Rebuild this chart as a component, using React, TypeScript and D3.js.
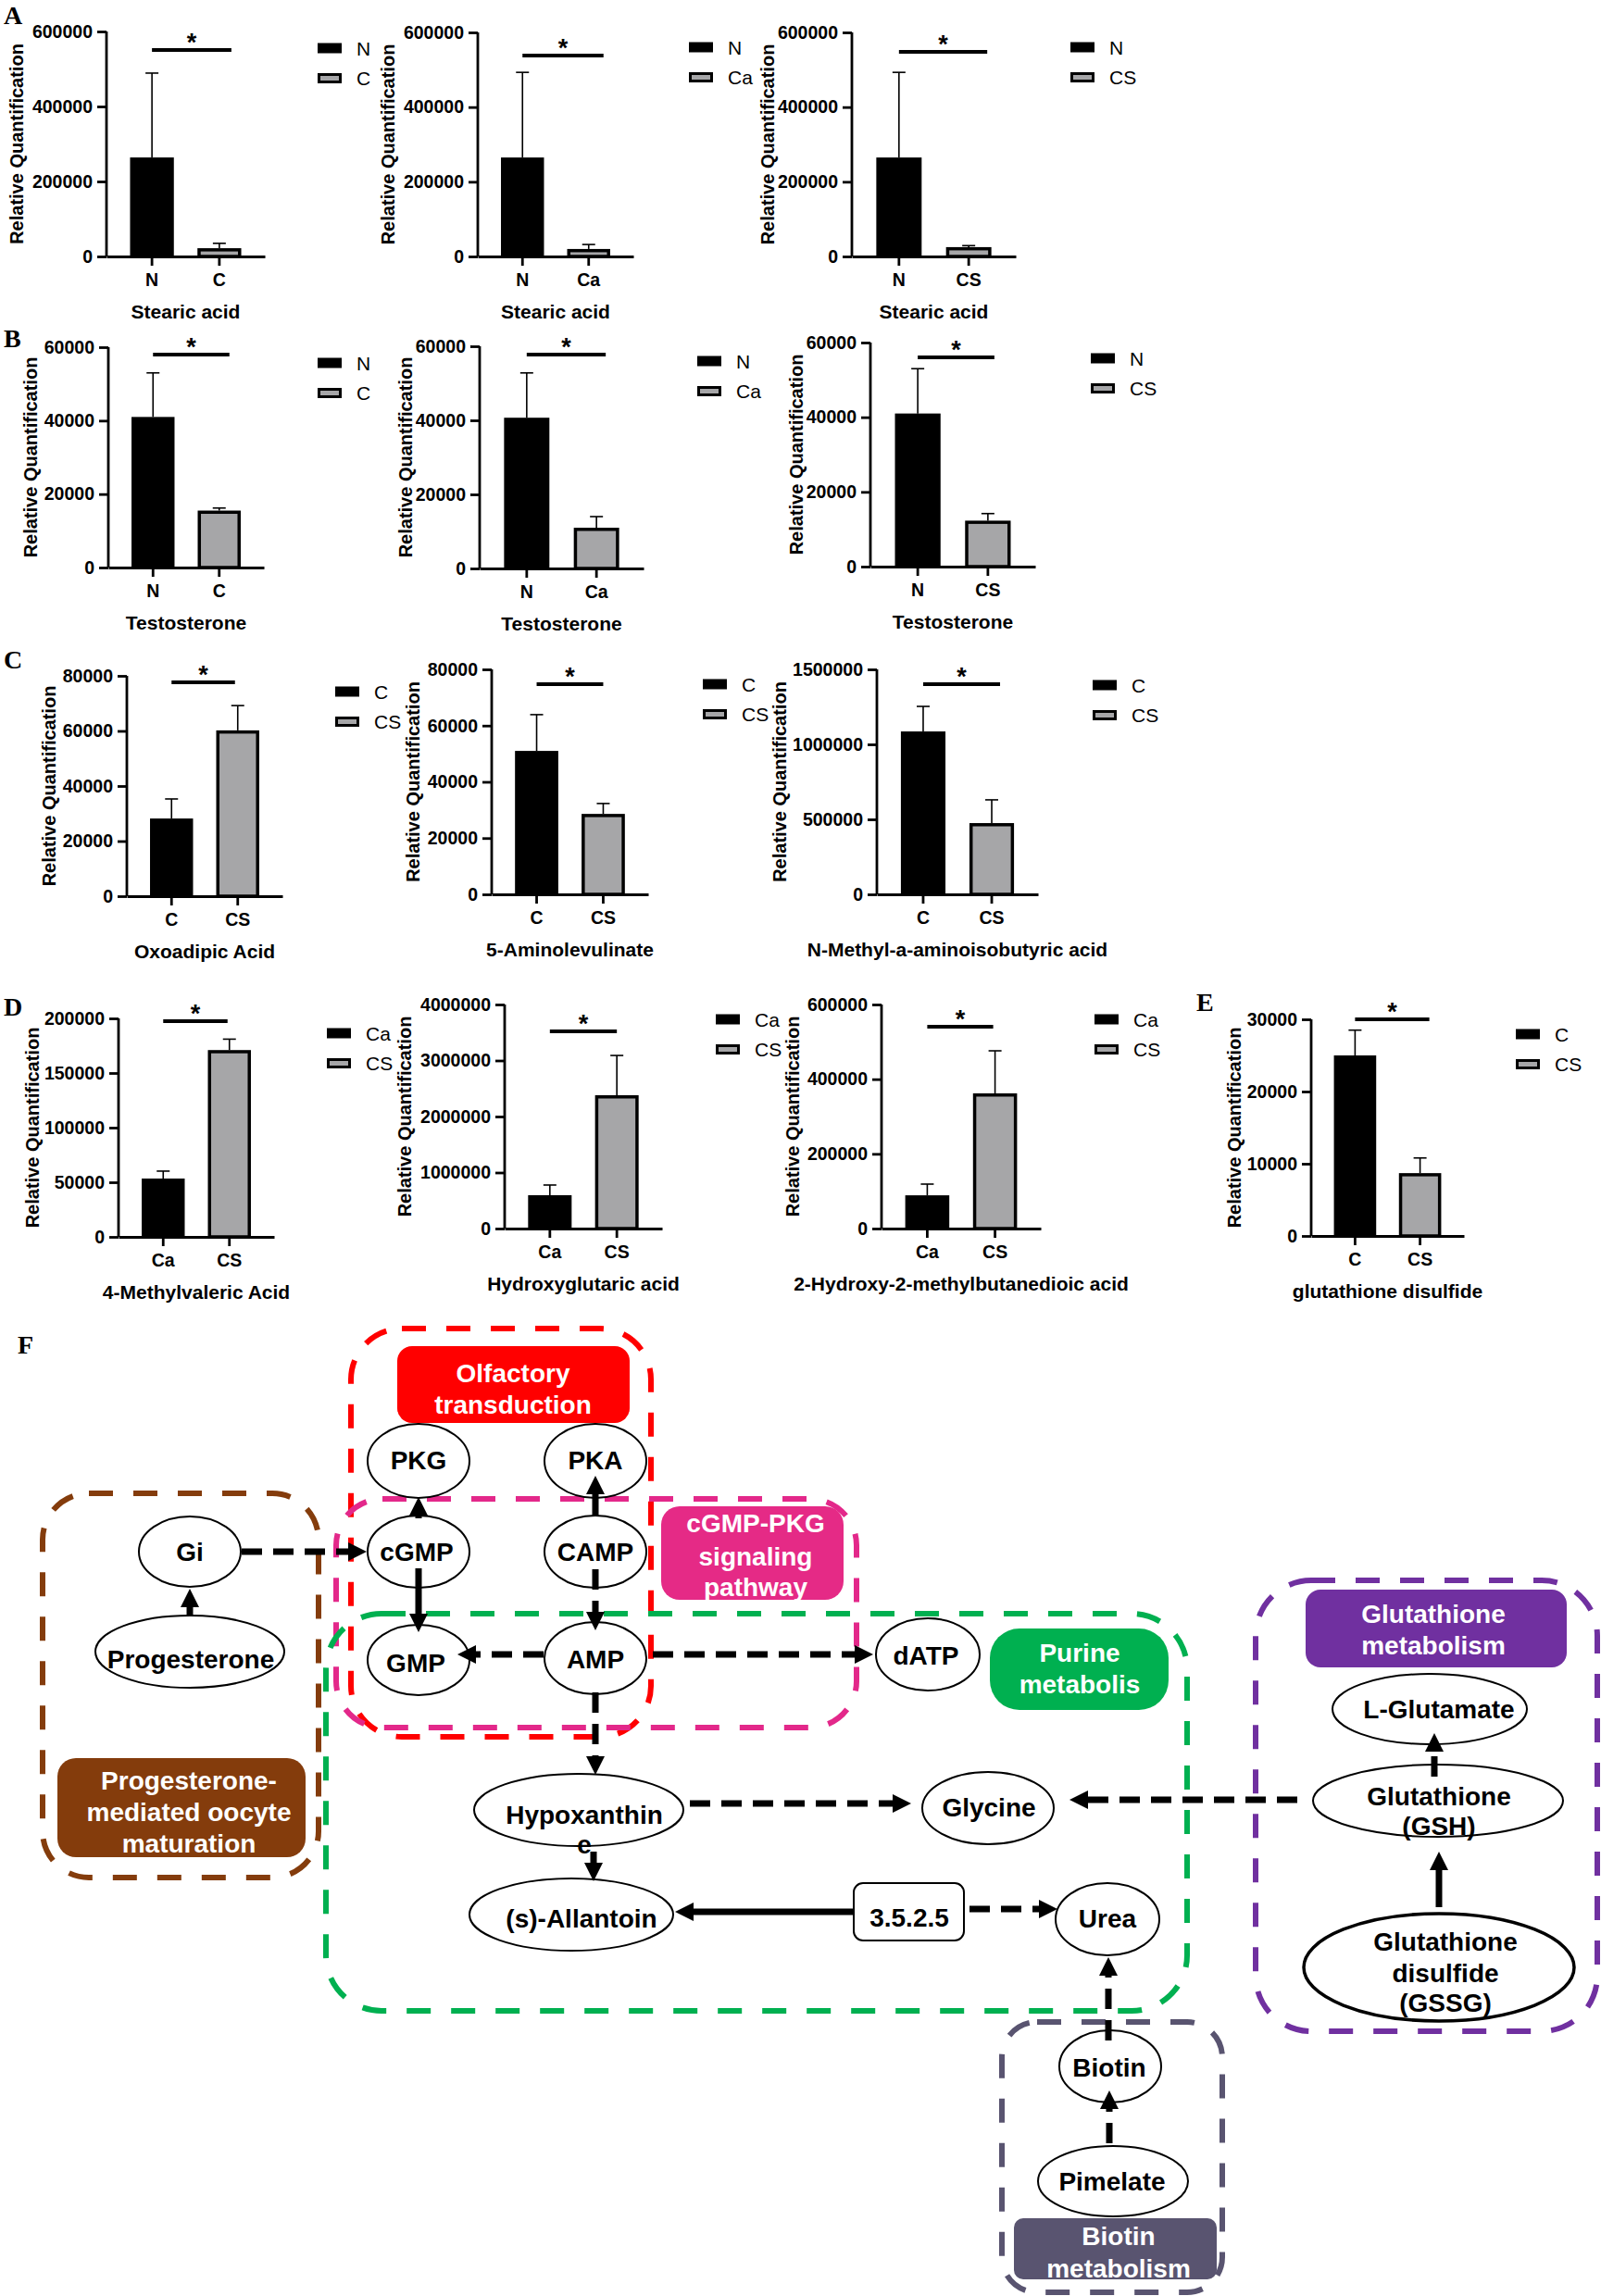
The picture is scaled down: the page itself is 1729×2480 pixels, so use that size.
import React, { useEffect, useRef } from 'react';
import * as d3 from 'd3';

const W = 1729;
const H = 2480;
const SANS = '"Liberation Sans", Arial, sans-serif';
const SERIF = '"Liberation Serif", "Times New Roman", serif';

// ---------- bar chart data (panels A-E) ----------
const metabolites = [
    'Stearic acid', 'Stearic acid', 'Stearic acid',
    'Testosterone', 'Testosterone', 'Testosterone',
    'Oxoadipic Acid', '5-Aminolevulinate', 'N-Methyl-a-aminoisobutyric acid',
    '4-Methylvaleric Acid', 'Hydroxyglutaric acid', '2-Hydroxy-2-methylbutanedioic acid',
    'glutathione disulfide',
];
const groupPairs = [
    ['N', 'C'], ['N', 'Ca'], ['N', 'CS'],
    ['N', 'C'], ['N', 'Ca'], ['N', 'CS'],
    ['C', 'CS'], ['C', 'CS'], ['C', 'CS'],
    ['Ca', 'CS'], ['Ca', 'CS'], ['Ca', 'CS'],
    ['C', 'CS'],
];
const meanValues = [
    [264000, 22000], [265000, 20000], [265000, 25000],
    [41000, 15500], [40700, 11000], [41000, 12300],
    [28200, 60200], [51000, 28600], [1086000, 475000],
    [53400, 171000], [595000, 2380000], [89000, 362000],
    [25000, 8700],
];
const upperErrors = [
    [489000, 35000], [493000, 32000], [493000, 29000],
    [53000, 16200], [52800, 14000], [53000, 14200],
    [35300, 69200], [63900, 32300], [1253000, 630000],
    [60200, 181000], [777000, 3090000], [119000, 476000],
    [28500, 10800],
];
const yMaxima = [600000, 600000, 600000, 60000, 60000, 60000, 80000, 80000, 1500000, 200000, 4000000, 600000, 30000];
const yTickSteps = [200000, 200000, 200000, 20000, 20000, 20000, 20000, 20000, 500000, 50000, 1000000, 200000, 10000];

// panel placement in the page
const panelFrames = [
    { axisX: 115, top: 34, zero: 277, right: 286, labelX: 25, sigY: 54, sigPad: 13, legX: 343, legY: 52 },
    { axisX: 516, top: 35, zero: 277, right: 684, labelX: 426, sigY: 60, sigPad: 16, legX: 744, legY: 51 },
    { axisX: 920, top: 35, zero: 277, right: 1097, labelX: 839, sigY: 56, sigPad: 20, legX: 1156, legY: 51 },
    { axisX: 117, top: 375, zero: 613, right: 285, labelX: 40, sigY: 383, sigPad: 11, legX: 343, legY: 392 },
    { axisX: 518, top: 374, zero: 614, right: 695, labelX: 449, sigY: 383, sigPad: 10, legX: 753, legY: 390 },
    { axisX: 940, top: 370, zero: 612, right: 1118, labelX: 871, sigY: 386, sigPad: 7, legX: 1178, legY: 387 },
    { axisX: 137, top: 730, zero: 968, right: 305, labelX: 60, sigY: 737, sigPad: -3, legX: 362, legY: 747 },
    { axisX: 531, top: 723, zero: 966, right: 700, labelX: 453, sigY: 739, sigPad: 0, legX: 759, legY: 739 },
    { axisX: 947, top: 723, zero: 966, right: 1121, labelX: 849, sigY: 739, sigPad: 9, legX: 1180, legY: 740 },
    { axisX: 128, top: 1100, zero: 1336, right: 296, labelX: 42, sigY: 1103, sigPad: -2, legX: 353, legY: 1116 },
    { axisX: 545, top: 1085, zero: 1327, right: 715, labelX: 444, sigY: 1114, sigPad: 0, legX: 773, legY: 1101 },
    { axisX: 952, top: 1085, zero: 1327, right: 1124, labelX: 863, sigY: 1109, sigPad: -2, legX: 1182, legY: 1101 },
    { axisX: 1416, top: 1101, zero: 1335, right: 1581, labelX: 1340, sigY: 1101, sigPad: 10, legX: 1637, legY: 1117 },
];

const panelLetters = [
    { t: 'A', x: 4, y: 26 }, { t: 'B', x: 4, y: 375 }, { t: 'C', x: 4, y: 722 },
    { t: 'D', x: 4, y: 1097 }, { t: 'E', x: 1292, y: 1092 }, { t: 'F', x: 19, y: 1462 },
];

// ---------- pathway diagram (panel F) ----------
const pathwayGroups = [
    { color: '#ff0000', x: 379, y: 1435, w: 324, h: 441, r: 55 },
    { color: '#e3288a', x: 363, y: 1619, w: 562, h: 247, r: 50 },
    { color: '#00b050', x: 352, y: 1743, w: 930, h: 429, r: 60 },
    { color: '#843c0c', x: 46, y: 1613, w: 298, h: 415, r: 50 },
    { color: '#7030a0', x: 1356, y: 1707, w: 369, h: 487, r: 60 },
    { color: '#595470', x: 1082, y: 2184, w: 238, h: 292, r: 38 },
];
const pathwayTags = [
    { lines: ['Olfactory', 'transduction'], fill: '#ff0000', x: 429, y: 1454, w: 251, h: 83, r: 16, tx: 554, base: [1493, 1527] },
    { lines: ['cGMP-PKG', 'signaling', 'pathway'], fill: '#e52a86', x: 714, y: 1627, w: 197, h: 101, r: 20, tx: 816, base: [1655, 1691, 1724] },
    { lines: ['Purine', 'metabolis'], fill: '#00b050', x: 1069, y: 1759, w: 193, h: 88, r: 32, tx: 1166, base: [1795, 1829] },
    { lines: ['Glutathione', 'metabolism'], fill: '#7030a0', x: 1410, y: 1717, w: 282, h: 84, r: 16, tx: 1548, base: [1753, 1787] },
    { lines: ['Progesterone-', 'mediated oocyte', 'maturation'], fill: '#843c0c', x: 62, y: 1899, w: 268, h: 107, r: 20, tx: 204, base: [1933, 1967, 2001] },
    { lines: ['Biotin', 'metabolism'], fill: '#595470', x: 1095, y: 2396, w: 219, h: 66, r: 10, tx: 1208, base: [2425, 2460] },
];
const pathwayNodes = [
    { lines: ['PKG'], cx: 452, cy: 1578, rx: 55, ry: 40, tx: 452, base: [1587] },
    { lines: ['PKA'], cx: 643, cy: 1578, rx: 55, ry: 40, tx: 643, base: [1587] },
    { lines: ['cGMP'], cx: 452, cy: 1676, rx: 55, ry: 39, tx: 450, base: [1686] },
    { lines: ['CAMP'], cx: 643, cy: 1676, rx: 55, ry: 39, tx: 643, base: [1686] },
    { lines: ['GMP'], cx: 452, cy: 1793, rx: 55, ry: 38, tx: 449, base: [1806] },
    { lines: ['AMP'], cx: 643, cy: 1791, rx: 55, ry: 39, tx: 643, base: [1802] },
    { lines: ['Gi'], cx: 205, cy: 1676, rx: 55, ry: 38, tx: 205, base: [1686] },
    { lines: ['Progesterone'], cx: 205, cy: 1784, rx: 102, ry: 39, tx: 206, base: [1802] },
    { lines: ['dATP'], cx: 1002, cy: 1787, rx: 56, ry: 39, tx: 1000, base: [1798] },
    { lines: ['Hypoxanthin', 'e'], cx: 625, cy: 1955, rx: 113, ry: 39, tx: 631, base: [1970, 2002] },
    { lines: ['(s)-Allantoin'], cx: 617, cy: 2068, rx: 110, ry: 39, tx: 628, base: [2082] },
    { lines: ['Glycine'], cx: 1067, cy: 1953, rx: 71, ry: 39, tx: 1068, base: [1962] },
    { lines: ['Urea'], cx: 1196, cy: 2073, rx: 56, ry: 39, tx: 1196, base: [2082] },
    { lines: ['L-Glutamate'], cx: 1544, cy: 1846, rx: 105, ry: 38, tx: 1554, base: [1856] },
    { lines: ['Glutathione', '(GSH)'], cx: 1553, cy: 1945, rx: 135, ry: 39, tx: 1554, base: [1950, 1982] },
    { lines: ['Glutathione', 'disulfide', '(GSSG)'], cx: 1554, cy: 2125, rx: 146, ry: 58, tx: 1561, base: [2107, 2141, 2173], sw: 3.5 },
    { lines: ['Biotin'], cx: 1199, cy: 2232, rx: 55, ry: 39, tx: 1198, base: [2243] },
    { lines: ['Pimelate'], cx: 1202, cy: 2356, rx: 81, ry: 38, tx: 1201, base: [2366] },
];
const enzymeBox = { label: '3.5.2.5', x: 922, y: 2034, w: 119, h: 62, tx: 982, base: 2081 };
const pathwayArrows = [
    { x1: 205, y1: 1745, x2: 205, y2: 1716, dash: false },
    { x1: 261, y1: 1676, x2: 396, y2: 1676, dash: true },
    { x1: 452, y1: 1640, x2: 452, y2: 1617, dash: false },
    { x1: 643, y1: 1638, x2: 643, y2: 1594, dash: false },
    { x1: 452, y1: 1694, x2: 452, y2: 1763, dash: false },
    { x1: 643, y1: 1695, x2: 643, y2: 1761, dash: true },
    { x1: 587, y1: 1787, x2: 494, y2: 1787, dash: true },
    { x1: 705, y1: 1787, x2: 943, y2: 1787, dash: true },
    { x1: 643, y1: 1828, x2: 643, y2: 1917, dash: true },
    { x1: 745, y1: 1948, x2: 984, y2: 1948, dash: true },
    { x1: 1401, y1: 1944, x2: 1155, y2: 1944, dash: true },
    { x1: 1549, y1: 1919, x2: 1549, y2: 1872, dash: true },
    { x1: 1554, y1: 2060, x2: 1554, y2: 2000, dash: false },
    { x1: 641, y1: 2000, x2: 641, y2: 2032, dash: false },
    { x1: 922, y1: 2065, x2: 729, y2: 2065, dash: false },
    { x1: 1047, y1: 2062, x2: 1142, y2: 2062, dash: true },
    { x1: 1197, y1: 2204, x2: 1197, y2: 2114, dash: true },
    { x1: 1198, y1: 2315, x2: 1198, y2: 2258, dash: true },
];

const App = () => {
    const svgRef = useRef<SVGSVGElement>(null);

    useEffect(() => {
        const svg = d3.select(svgRef.current);
        svg.selectAll('*').remove();
        svg.append('rect').attr('width', W).attr('height', H).attr('fill', '#fff');

        // panel letters
        svg.append('g').selectAll('text').data(panelLetters).join('text')
            .attr('x', d => d.x).attr('y', d => d.y)
            .attr('font-family', SERIF).attr('font-weight', 'bold').attr('font-size', 28)
            .text(d => d.t);

        // ---- bar charts ----
        metabolites.forEach((name, i) => {
            const f = panelFrames[i];
            const cats = groupPairs[i];
            const g = svg.append('g');

            const x = d3.scaleBand().domain(cats).range([f.axisX, f.right]).paddingInner(0.35).paddingOuter(0.35);
            const y = d3.scaleLinear().domain([0, yMaxima[i]]).range([f.zero, f.top]);
            const ticks = d3.range(0, yMaxima[i] + yTickSteps[i] / 2, yTickSteps[i]);

            // bars
            cats.forEach((c, j) => {
                const x0 = x(c)!;
                const bw = x.bandwidth();
                const yv = y(meanValues[i][j]);
                if (j === 0) {
                    g.append('rect').attr('x', x0).attr('y', yv).attr('width', bw).attr('height', f.zero - yv).attr('fill', '#000');
                } else {
                    g.append('rect').attr('x', x0 + 1.75).attr('y', yv + 1.75).attr('width', bw - 3.5).attr('height', Math.max(0, f.zero - yv - 1.75))
                        .attr('fill', '#a6a6a8').attr('stroke', '#000').attr('stroke-width', 3.5);
                }
                const cx = x0 + bw / 2;
                const ye = y(upperErrors[i][j]);
                g.append('line').attr('x1', cx).attr('x2', cx).attr('y1', yv).attr('y2', ye).attr('stroke', '#000').attr('stroke-width', 1.6);
                g.append('line').attr('x1', cx - 7).attr('x2', cx + 7).attr('y1', ye).attr('y2', ye).attr('stroke', '#000').attr('stroke-width', 1.6);
            });

            // axes
            const yAxis = g.append('g').attr('transform', `translate(${f.axisX},0)`)
                .call(d3.axisLeft(y).tickValues(ticks).tickSize(10).tickSizeOuter(0).tickPadding(5).tickFormat(d3.format('d')));
            const xAxis = g.append('g').attr('transform', `translate(0,${f.zero})`)
                .call(d3.axisBottom(x).tickSize(10).tickSizeOuter(0).tickPadding(8));
            [yAxis, xAxis].forEach(ax => {
                ax.attr('font-family', SANS).attr('font-size', 19.5).attr('font-weight', 'bold');
                ax.select('.domain').attr('stroke-width', 2.8);
                ax.selectAll('.tick line').attr('stroke-width', 2.8);
            });
            yAxis.select('.domain').attr('d', `M0,${f.top}V${f.zero}`);

            // axis label kept clear of the tick labels
            const tickLeft = f.axisX + (yAxis.node() as SVGGElement).getBBox().x;
            const lx = Math.min(f.labelX, tickLeft - 4);
            g.append('text')
                .attr('transform', `translate(${lx},${(f.top + f.zero) / 2}) rotate(-90)`)
                .attr('text-anchor', 'middle').attr('font-family', SANS).attr('font-weight', 'bold').attr('font-size', 20)
                .text('Relative Quantification');
            g.append('text').attr('x', (f.axisX + f.right) / 2).attr('y', f.zero + 67)
                .attr('text-anchor', 'middle').attr('font-family', SANS).attr('font-weight', 'bold').attr('font-size', 21)
                .text(name);

            // significance
            const c1 = x(cats[0])! + x.bandwidth() / 2;
            const c2 = x(cats[1])! + x.bandwidth() / 2 + f.sigPad;
            g.append('line').attr('x1', c1).attr('x2', c2).attr('y1', f.sigY).attr('y2', f.sigY).attr('stroke', '#000').attr('stroke-width', 4);
            g.append('text').attr('x', (c1 + c2) / 2).attr('y', f.sigY + 1).attr('text-anchor', 'middle')
                .attr('font-family', SANS).attr('font-weight', 'bold').attr('font-size', 27).text('*');

            // legend
            cats.forEach((c, j) => {
                const cy = f.legY + j * 32.5;
                if (j === 0) {
                    g.append('rect').attr('x', f.legX).attr('y', cy - 5.5).attr('width', 26).attr('height', 11).attr('fill', '#000');
                } else {
                    g.append('rect').attr('x', f.legX + 1.5).attr('y', cy - 4).attr('width', 23).attr('height', 8)
                        .attr('fill', '#a6a6a8').attr('stroke', '#000').attr('stroke-width', 3);
                }
                g.append('text').attr('x', f.legX + 42).attr('y', cy + 7.5)
                    .attr('font-family', SANS).attr('font-size', 21).text(c);
            });
        });

        // ---- pathway diagram ----
        const F = svg.append('g');
        F.selectAll('rect.grp').data(pathwayGroups).join('rect').attr('class', 'grp')
            .attr('x', d => d.x).attr('y', d => d.y).attr('width', d => d.w).attr('height', d => d.h)
            .attr('rx', d => d.r).attr('ry', d => d.r)
            .attr('fill', 'none').attr('stroke', d => d.color).attr('stroke-width', 6).attr('stroke-dasharray', '26,22');

        pathwayTags.forEach(t => {
            F.append('rect').attr('x', t.x).attr('y', t.y).attr('width', t.w).attr('height', t.h)
                .attr('rx', t.r).attr('ry', t.r).attr('fill', t.fill);
            t.lines.forEach((ln, k) => {
                F.append('text').attr('x', t.tx).attr('y', t.base[k]).attr('text-anchor', 'middle')
                    .attr('font-family', SANS).attr('font-weight', 'bold').attr('font-size', 28).attr('fill', '#fff').text(ln);
            });
        });

        // enzyme box
        F.append('rect').attr('x', enzymeBox.x).attr('y', enzymeBox.y).attr('width', enzymeBox.w).attr('height', enzymeBox.h)
            .attr('rx', 10).attr('ry', 10).attr('fill', '#fff').attr('stroke', '#000').attr('stroke-width', 2);

        // nodes (shapes first, arrows may run into them)
        pathwayNodes.forEach(n => {
            F.append('ellipse').attr('cx', n.cx).attr('cy', n.cy).attr('rx', n.rx).attr('ry', n.ry)
                .attr('fill', '#fff').attr('stroke', '#000').attr('stroke-width', n.sw || 2);
        });

        // arrows
        pathwayArrows.forEach(a => {
            const dx = a.x2 - a.x1;
            const dy = a.y2 - a.y1;
            const len = Math.hypot(dx, dy);
            const ux = dx / len;
            const uy = dy / len;
            const head = 20;
            const hw = 10;
            const bx = a.x2 - ux * head;
            const by = a.y2 - uy * head;
            F.append('line').attr('x1', a.x1).attr('y1', a.y1).attr('x2', bx + ux * 2).attr('y2', by + uy * 2)
                .attr('stroke', '#000').attr('stroke-width', 7)
                .attr('stroke-dasharray', a.dash ? '22,12' : null);
            F.append('polygon')
                .attr('points', `${a.x2},${a.y2} ${bx - uy * hw},${by + ux * hw} ${bx + uy * hw},${by - ux * hw}`)
                .attr('fill', '#000');
        });

        F.append('text').attr('x', enzymeBox.tx).attr('y', enzymeBox.base).attr('text-anchor', 'middle')
            .attr('font-family', SANS).attr('font-weight', 'bold').attr('font-size', 28).text(enzymeBox.label);
        pathwayNodes.forEach(n => {
            n.lines.forEach((ln, k) => {
                F.append('text').attr('x', n.tx).attr('y', n.base[k]).attr('text-anchor', 'middle')
                    .attr('font-family', SANS).attr('font-weight', 'bold').attr('font-size', 28).text(ln);
            });
        });
    }, []);

    return (
        <svg ref={svgRef} width={W} height={H}
            style={{ position: 'absolute', left: 0, top: 0, display: 'block' }} />
    );
};

export default App;
